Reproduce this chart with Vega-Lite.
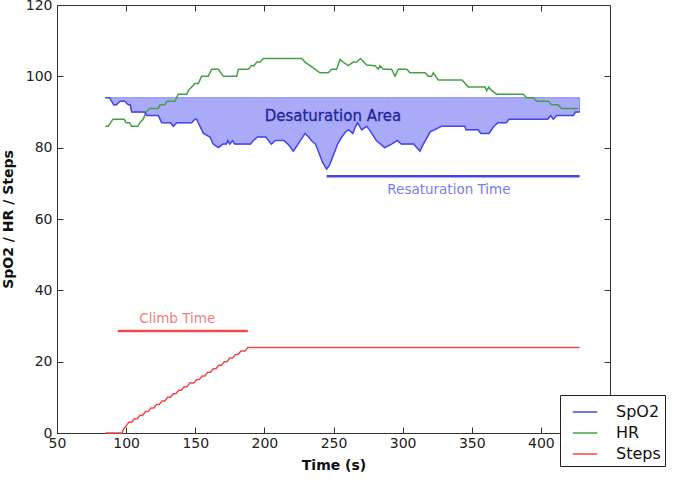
{
  "$schema": "https://vega.github.io/schema/vega-lite/v6.json",
  "width": 553,
  "height": 428,
  "autosize": {"type": "none"},
  "padding": {"left": 57, "top": 5, "right": 64, "bottom": 47},
  "background": "white",
  "config": {
    "font": "DejaVu Sans",
    "view": {"stroke": "#333333", "strokeWidth": 1},
    "axis": {
      "grid": false,
      "domainColor": "#333333",
      "tickColor": "#333333",
      "tickSize": -6,
      "labelFont": "DejaVu Sans",
      "labelFontSize": 14,
      "labelColor": "#222222",
      "titleFont": "DejaVu Sans",
      "titleFontSize": 14,
      "titleFontWeight": "bold",
      "titleColor": "#111111",
      "labelFlush": false,
      "labelOverlap": false
    },
    "legend": {
      "orient": "none",
      "legendX": 503,
      "legendY": 390,
      "strokeColor": "#222222",
      "fillColor": "white",
      "padding": 4,
      "cornerRadius": 0,
      "symbolType": "stroke",
      "symbolSize": 600,
      "symbolStrokeWidth": 1.5,
      "symbolOffset": 8,
      "labelOffset": 18,
      "labelFontSize": 16,
      "labelFont": "DejaVu Sans",
      "labelColor": "#111111",
      "rowPadding": 0
    }
  },
  "datasets": {
    "spo2": [
      {"t": 85, "v": 94, "series": "SpO2"}, {"t": 88, "v": 94, "series": "SpO2"}, {"t": 91, "v": 92, "series": "SpO2"}, {"t": 93, "v": 92, "series": "SpO2"},
      {"t": 95.5, "v": 93, "series": "SpO2"}, {"t": 99, "v": 93, "series": "SpO2"}, {"t": 101.5, "v": 92, "series": "SpO2"}, {"t": 103, "v": 92, "series": "SpO2"},
      {"t": 104, "v": 90, "series": "SpO2"}, {"t": 113.5, "v": 90, "series": "SpO2"}, {"t": 114.8, "v": 89, "series": "SpO2"}, {"t": 123.3, "v": 89, "series": "SpO2"},
      {"t": 125.7, "v": 87, "series": "SpO2"}, {"t": 132, "v": 87, "series": "SpO2"}, {"t": 134.2, "v": 86, "series": "SpO2"}, {"t": 136.6, "v": 87, "series": "SpO2"},
      {"t": 147.4, "v": 87, "series": "SpO2"}, {"t": 149.8, "v": 88, "series": "SpO2"}, {"t": 151, "v": 88, "series": "SpO2"}, {"t": 152.2, "v": 87, "series": "SpO2"},
      {"t": 155.9, "v": 84, "series": "SpO2"}, {"t": 160.7, "v": 83, "series": "SpO2"}, {"t": 163, "v": 81, "series": "SpO2"}, {"t": 166.7, "v": 80, "series": "SpO2"},
      {"t": 170, "v": 81, "series": "SpO2"}, {"t": 172.5, "v": 81, "series": "SpO2"}, {"t": 173.5, "v": 82, "series": "SpO2"}, {"t": 175, "v": 81, "series": "SpO2"},
      {"t": 177, "v": 82, "series": "SpO2"}, {"t": 178.5, "v": 81, "series": "SpO2"}, {"t": 190, "v": 81, "series": "SpO2"}, {"t": 192, "v": 82, "series": "SpO2"},
      {"t": 195, "v": 83, "series": "SpO2"}, {"t": 201, "v": 83, "series": "SpO2"}, {"t": 205, "v": 81, "series": "SpO2"}, {"t": 208, "v": 82, "series": "SpO2"},
      {"t": 214, "v": 82, "series": "SpO2"}, {"t": 217, "v": 81, "series": "SpO2"}, {"t": 221, "v": 79, "series": "SpO2"}, {"t": 226, "v": 82, "series": "SpO2"},
      {"t": 229.4, "v": 84, "series": "SpO2"}, {"t": 232, "v": 83, "series": "SpO2"}, {"t": 234, "v": 82, "series": "SpO2"}, {"t": 237, "v": 81, "series": "SpO2"},
      {"t": 240, "v": 78, "series": "SpO2"}, {"t": 242, "v": 76, "series": "SpO2"}, {"t": 245, "v": 74, "series": "SpO2"}, {"t": 247, "v": 75, "series": "SpO2"},
      {"t": 249, "v": 77, "series": "SpO2"}, {"t": 251, "v": 79, "series": "SpO2"}, {"t": 253, "v": 81, "series": "SpO2"}, {"t": 256, "v": 83, "series": "SpO2"},
      {"t": 259, "v": 84.5, "series": "SpO2"}, {"t": 261, "v": 85, "series": "SpO2"}, {"t": 264, "v": 84, "series": "SpO2"}, {"t": 266, "v": 86, "series": "SpO2"},
      {"t": 267.5, "v": 87, "series": "SpO2"}, {"t": 270.4, "v": 85, "series": "SpO2"}, {"t": 274, "v": 86, "series": "SpO2"}, {"t": 276, "v": 85, "series": "SpO2"},
      {"t": 281, "v": 82, "series": "SpO2"}, {"t": 287, "v": 80, "series": "SpO2"}, {"t": 292, "v": 81, "series": "SpO2"}, {"t": 296, "v": 82, "series": "SpO2"},
      {"t": 299, "v": 81, "series": "SpO2"}, {"t": 308, "v": 81, "series": "SpO2"}, {"t": 312.5, "v": 79, "series": "SpO2"}, {"t": 315, "v": 81, "series": "SpO2"},
      {"t": 318, "v": 83, "series": "SpO2"}, {"t": 320, "v": 84.5, "series": "SpO2"}, {"t": 323, "v": 85, "series": "SpO2"}, {"t": 328, "v": 86, "series": "SpO2"},
      {"t": 345, "v": 86, "series": "SpO2"}, {"t": 345.8, "v": 85, "series": "SpO2"}, {"t": 354.7, "v": 85, "series": "SpO2"}, {"t": 356.5, "v": 84, "series": "SpO2"},
      {"t": 362.5, "v": 84, "series": "SpO2"}, {"t": 366, "v": 86, "series": "SpO2"}, {"t": 369, "v": 87, "series": "SpO2"}, {"t": 375, "v": 87, "series": "SpO2"},
      {"t": 377, "v": 88, "series": "SpO2"}, {"t": 405, "v": 88, "series": "SpO2"}, {"t": 407, "v": 89, "series": "SpO2"}, {"t": 409, "v": 88, "series": "SpO2"},
      {"t": 411.4, "v": 89, "series": "SpO2"}, {"t": 423.5, "v": 89, "series": "SpO2"}, {"t": 425, "v": 90, "series": "SpO2"}, {"t": 428, "v": 90, "series": "SpO2"}
    ],
    "hr": [
      {"t": 85, "v": 86, "series": "HR"}, {"t": 87, "v": 86, "series": "HR"}, {"t": 90.5, "v": 88, "series": "HR"}, {"t": 98.5, "v": 88, "series": "HR"},
      {"t": 100, "v": 87, "series": "HR"}, {"t": 102.5, "v": 87, "series": "HR"}, {"t": 104, "v": 86, "series": "HR"}, {"t": 108.5, "v": 86, "series": "HR"},
      {"t": 110, "v": 87, "series": "HR"}, {"t": 112.4, "v": 88, "series": "HR"}, {"t": 114.5, "v": 90, "series": "HR"}, {"t": 117, "v": 91, "series": "HR"},
      {"t": 123.3, "v": 91, "series": "HR"}, {"t": 124.5, "v": 92, "series": "HR"}, {"t": 128, "v": 92, "series": "HR"}, {"t": 129.4, "v": 93, "series": "HR"},
      {"t": 135.3, "v": 93, "series": "HR"}, {"t": 137.7, "v": 95, "series": "HR"}, {"t": 143.8, "v": 95, "series": "HR"}, {"t": 145, "v": 96, "series": "HR"},
      {"t": 147.4, "v": 97, "series": "HR"}, {"t": 149.8, "v": 98, "series": "HR"}, {"t": 152.2, "v": 98, "series": "HR"}, {"t": 154.6, "v": 100, "series": "HR"},
      {"t": 159.4, "v": 100, "series": "HR"}, {"t": 161.9, "v": 102, "series": "HR"}, {"t": 166.7, "v": 102, "series": "HR"}, {"t": 170.3, "v": 100, "series": "HR"},
      {"t": 180, "v": 100, "series": "HR"}, {"t": 181.2, "v": 102, "series": "HR"}, {"t": 188.4, "v": 102, "series": "HR"}, {"t": 190.5, "v": 103, "series": "HR"},
      {"t": 192.5, "v": 103, "series": "HR"}, {"t": 194.5, "v": 104, "series": "HR"}, {"t": 197, "v": 104, "series": "HR"}, {"t": 199.2, "v": 105, "series": "HR"},
      {"t": 227, "v": 105, "series": "HR"}, {"t": 229.4, "v": 104, "series": "HR"}, {"t": 233, "v": 103, "series": "HR"}, {"t": 236.6, "v": 102, "series": "HR"},
      {"t": 240.2, "v": 101, "series": "HR"}, {"t": 246.2, "v": 101, "series": "HR"}, {"t": 248.7, "v": 102, "series": "HR"}, {"t": 252.3, "v": 102, "series": "HR"},
      {"t": 254.7, "v": 104.7, "series": "HR"}, {"t": 257, "v": 104, "series": "HR"}, {"t": 260.7, "v": 103, "series": "HR"}, {"t": 264.3, "v": 104, "series": "HR"},
      {"t": 266.7, "v": 104, "series": "HR"}, {"t": 269.5, "v": 105, "series": "HR"}, {"t": 274, "v": 103.2, "series": "HR"}, {"t": 280, "v": 103, "series": "HR"},
      {"t": 282.4, "v": 102, "series": "HR"}, {"t": 283.6, "v": 103, "series": "HR"}, {"t": 286, "v": 102, "series": "HR"}, {"t": 292, "v": 102, "series": "HR"},
      {"t": 294.5, "v": 100, "series": "HR"}, {"t": 296.9, "v": 102, "series": "HR"}, {"t": 303, "v": 102, "series": "HR"}, {"t": 305.3, "v": 101, "series": "HR"},
      {"t": 316.2, "v": 101, "series": "HR"}, {"t": 318.6, "v": 100, "series": "HR"}, {"t": 321, "v": 100, "series": "HR"}, {"t": 322.2, "v": 101, "series": "HR"},
      {"t": 325.8, "v": 99, "series": "HR"}, {"t": 343, "v": 99, "series": "HR"}, {"t": 347.5, "v": 97, "series": "HR"}, {"t": 359.6, "v": 97, "series": "HR"},
      {"t": 360.8, "v": 96, "series": "HR"}, {"t": 362.3, "v": 97, "series": "HR"}, {"t": 364.4, "v": 96, "series": "HR"}, {"t": 368, "v": 95, "series": "HR"},
      {"t": 387.3, "v": 95, "series": "HR"}, {"t": 389.7, "v": 94, "series": "HR"}, {"t": 394.5, "v": 94, "series": "HR"}, {"t": 397, "v": 93, "series": "HR"},
      {"t": 405.4, "v": 93, "series": "HR"}, {"t": 407.8, "v": 92, "series": "HR"}, {"t": 412.6, "v": 92, "series": "HR"}, {"t": 415, "v": 91, "series": "HR"},
      {"t": 427, "v": 91, "series": "HR"}
    ],
    "steps": [
      {"t": 85, "v": 0, "series": "Steps"}, {"t": 97, "v": 0, "series": "Steps"}, {"t": 98, "v": 1, "series": "Steps"}, {"t": 100, "v": 2, "series": "Steps"},
      {"t": 102, "v": 3, "series": "Steps"}, {"t": 104, "v": 3, "series": "Steps"}, {"t": 106, "v": 4, "series": "Steps"}, {"t": 108, "v": 4, "series": "Steps"},
      {"t": 110, "v": 5, "series": "Steps"}, {"t": 112, "v": 5, "series": "Steps"}, {"t": 114, "v": 6, "series": "Steps"}, {"t": 116, "v": 6, "series": "Steps"},
      {"t": 118, "v": 7, "series": "Steps"}, {"t": 120, "v": 7, "series": "Steps"}, {"t": 122, "v": 8, "series": "Steps"}, {"t": 124, "v": 8, "series": "Steps"},
      {"t": 126, "v": 9, "series": "Steps"}, {"t": 128, "v": 9, "series": "Steps"}, {"t": 130, "v": 10, "series": "Steps"}, {"t": 132, "v": 10, "series": "Steps"},
      {"t": 134, "v": 11, "series": "Steps"}, {"t": 136, "v": 11, "series": "Steps"}, {"t": 138, "v": 12, "series": "Steps"}, {"t": 140, "v": 12, "series": "Steps"},
      {"t": 142, "v": 13, "series": "Steps"}, {"t": 144, "v": 13, "series": "Steps"}, {"t": 146, "v": 14, "series": "Steps"}, {"t": 149, "v": 14, "series": "Steps"},
      {"t": 151, "v": 15, "series": "Steps"}, {"t": 153, "v": 15, "series": "Steps"}, {"t": 155, "v": 16, "series": "Steps"}, {"t": 157, "v": 16, "series": "Steps"},
      {"t": 159, "v": 17, "series": "Steps"}, {"t": 161, "v": 17, "series": "Steps"}, {"t": 163, "v": 18, "series": "Steps"}, {"t": 165, "v": 18, "series": "Steps"},
      {"t": 167, "v": 19, "series": "Steps"}, {"t": 169, "v": 19, "series": "Steps"}, {"t": 171, "v": 20, "series": "Steps"}, {"t": 173, "v": 20, "series": "Steps"},
      {"t": 175, "v": 21, "series": "Steps"}, {"t": 177, "v": 21, "series": "Steps"}, {"t": 179, "v": 22, "series": "Steps"}, {"t": 181, "v": 22, "series": "Steps"},
      {"t": 183, "v": 23, "series": "Steps"}, {"t": 186, "v": 23, "series": "Steps"}, {"t": 188, "v": 24, "series": "Steps"}, {"t": 428, "v": 24, "series": "Steps"}
    ],
    "spans": [
      {"name": "Climb Time", "t": 94, "t2": 188, "v": 28.6},
      {"name": "Resaturation Time", "t": 245, "t2": 428, "v": 72}
    ],
    "notes": [
      {"text": "Desaturation Area", "t": 249.6, "v": 89},
      {"text": "Resaturation Time", "t": 333.5, "v": 68},
      {"text": "Climb Time", "t": 137, "v": 32}
    ]
  },
  "resolve": {"axis": {"x": "independent", "y": "independent"}},
  "layer": [
    {
      "data": {"name": "spo2"},
      "mark": {"type": "area", "fill": "#a9abf8", "stroke": "#8587f2", "strokeWidth": 1, "opacity": 1},
      "encoding": {
        "x": {"field": "t", "type": "quantitative", "scale": {"domain": [50, 450], "nice": false, "zero": false},
              "axis": {"orient": "bottom", "values": [50, 100, 150, 200, 250, 300, 350, 400], "title": "Time (s)", "labelPadding": 9, "titlePadding": 8}},
        "y": {"field": "v", "type": "quantitative", "scale": {"domain": [0, 120], "nice": false, "zero": false},
              "axis": {"orient": "left", "values": [0, 20, 40, 60, 80, 100, 120], "title": "SpO2 / HR / Steps", "labelPadding": 11, "titlePadding": 10}},
        "y2": {"datum": 94}
      }
    },
    {
      "data": {"name": "hr"},
      "mark": {"type": "line", "strokeWidth": 1.5},
      "encoding": {
        "x": {"field": "t", "type": "quantitative", "axis": {"orient": "top", "values": [50, 100, 150, 200, 250, 300, 350, 400], "labels": false, "title": null, "domain": false}},
        "y": {"field": "v", "type": "quantitative", "axis": {"orient": "right", "values": [0, 20, 40, 60, 80, 100, 120], "labels": false, "title": null, "domain": false}},
        "color": {"field": "series", "type": "nominal",
                  "scale": {"domain": ["SpO2", "HR", "Steps"], "range": ["#4646ee", "#45a045", "#f04a4a"]},
                  "legend": {"title": null}}
      }
    },
    {
      "data": {"name": "spo2"},
      "mark": {"type": "line", "strokeWidth": 1.5},
      "encoding": {
        "x": {"field": "t", "type": "quantitative", "axis": null},
        "y": {"field": "v", "type": "quantitative", "axis": null},
        "color": {"field": "series", "type": "nominal"}
      }
    },
    {
      "data": {"name": "steps"},
      "mark": {"type": "line", "strokeWidth": 1.5},
      "encoding": {
        "x": {"field": "t", "type": "quantitative", "axis": null},
        "y": {"field": "v", "type": "quantitative", "axis": null},
        "color": {"field": "series", "type": "nominal"}
      }
    },
    {
      "data": {"name": "spans"},
      "transform": [{"filter": "datum.name === 'Climb Time'"}],
      "mark": {"type": "rule", "color": "#f04a4a", "strokeWidth": 2.5},
      "encoding": {
        "x": {"field": "t", "type": "quantitative", "axis": null},
        "x2": {"field": "t2"},
        "y": {"field": "v", "type": "quantitative", "axis": null}
      }
    },
    {
      "data": {"name": "spans"},
      "transform": [{"filter": "datum.name === 'Resaturation Time'"}],
      "mark": {"type": "rule", "color": "#4646ee", "strokeWidth": 2.5},
      "encoding": {
        "x": {"field": "t", "type": "quantitative", "axis": null},
        "x2": {"field": "t2"},
        "y": {"field": "v", "type": "quantitative", "axis": null}
      }
    },
    {
      "data": {"name": "notes"},
      "transform": [{"filter": "datum.text === 'Desaturation Area'"}],
      "mark": {"type": "text", "fontSize": 15, "color": "#24249e", "font": "DejaVu Sans", "baseline": "middle", "align": "center", "stroke": "#24249e", "strokeWidth": 0.3},
      "encoding": {
        "x": {"field": "t", "type": "quantitative", "axis": null},
        "y": {"field": "v", "type": "quantitative", "axis": null},
        "text": {"field": "text"}
      }
    },
    {
      "data": {"name": "notes"},
      "transform": [{"filter": "datum.text === 'Resaturation Time'"}],
      "mark": {"type": "text", "fontSize": 13.5, "color": "#7a7cf0", "font": "DejaVu Sans", "baseline": "middle", "align": "center"},
      "encoding": {
        "x": {"field": "t", "type": "quantitative", "axis": null},
        "y": {"field": "v", "type": "quantitative", "axis": null},
        "text": {"field": "text"}
      }
    },
    {
      "data": {"name": "notes"},
      "transform": [{"filter": "datum.text === 'Climb Time'"}],
      "mark": {"type": "text", "fontSize": 13.5, "color": "#f08080", "font": "DejaVu Sans", "baseline": "middle", "align": "center"},
      "encoding": {
        "x": {"field": "t", "type": "quantitative", "axis": null},
        "y": {"field": "v", "type": "quantitative", "axis": null},
        "text": {"field": "text"}
      }
    }
  ]
}
